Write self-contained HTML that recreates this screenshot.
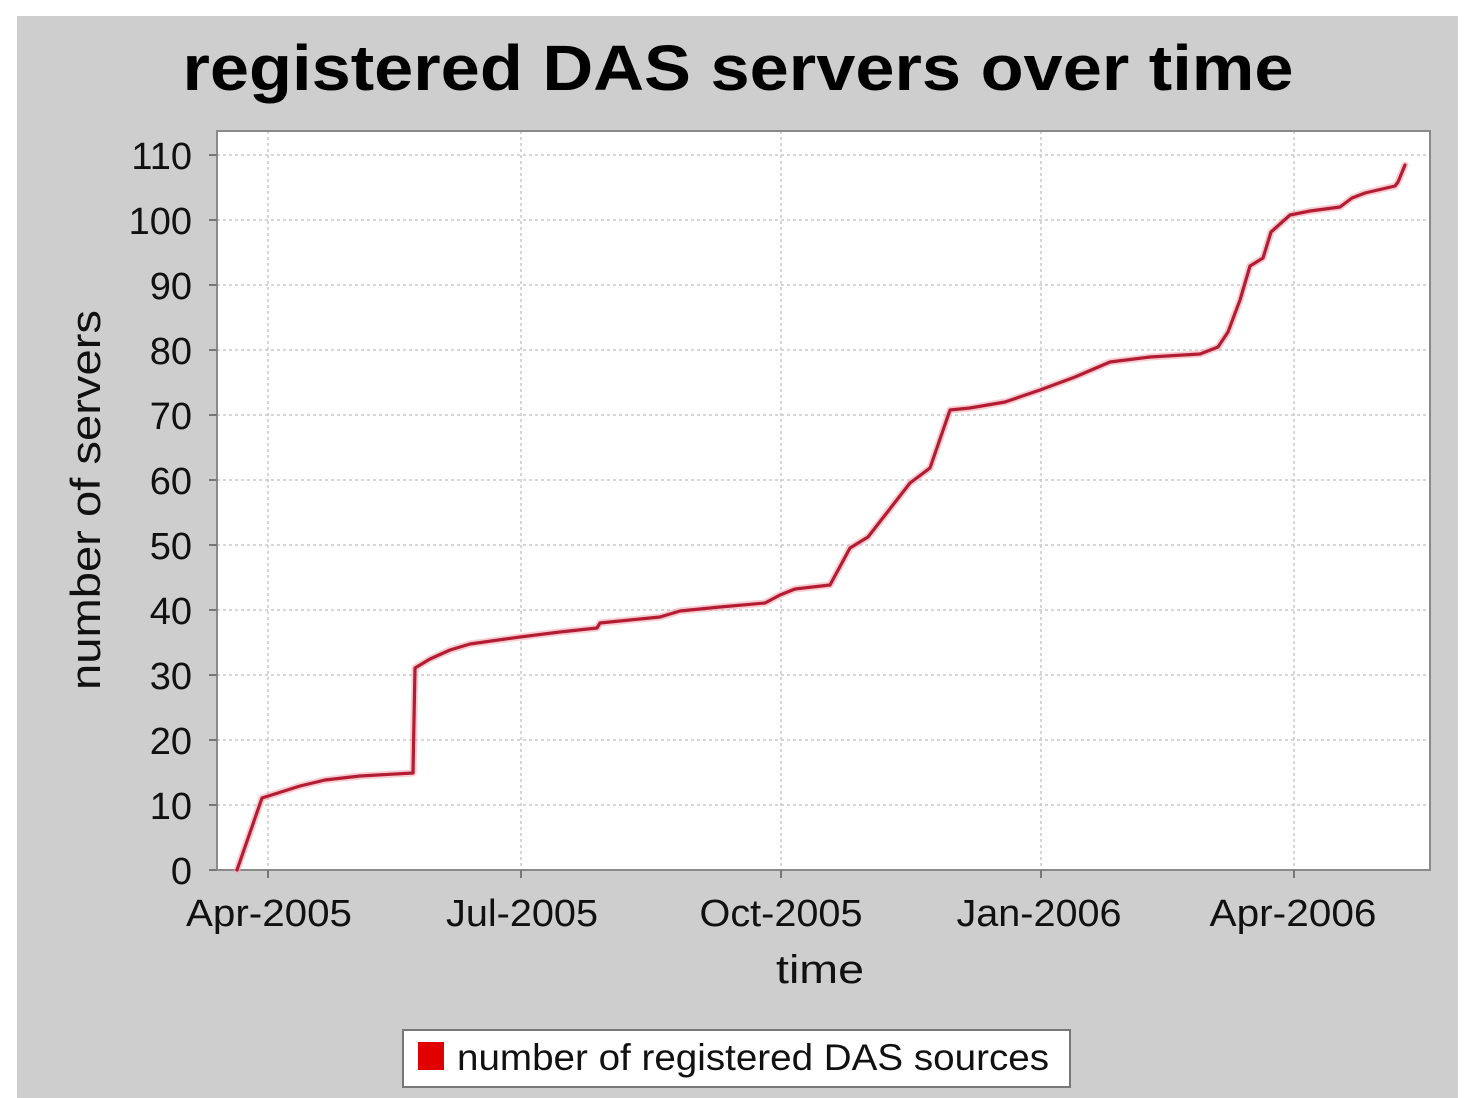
<!DOCTYPE html>
<html>
<head>
<meta charset="utf-8">
<style>
html,body{margin:0;padding:0;background:#ffffff;}
body{width:1466px;height:1098px;overflow:hidden;}
svg{display:block;}
text{font-family:"Liberation Sans","DejaVu Sans",sans-serif;fill:#111;}
</style>
</head>
<body>
<svg width="1466" height="1098" viewBox="0 0 1466 1098" xmlns="http://www.w3.org/2000/svg">
  <!-- outer panel -->
  <rect x="17" y="16" width="1441" height="1082" fill="#cecece"/>
  <!-- title -->
  <text x="738" y="90" font-size="64" font-weight="bold" text-anchor="middle" textLength="1111" lengthAdjust="spacingAndGlyphs" style="fill:#000">registered DAS servers over time</text>

  <!-- plot area -->
  <rect x="217" y="131" width="1213" height="739" fill="#ffffff"/>

  <!-- grid lines -->
  <g stroke="#c8c8c8" stroke-width="1.5" stroke-dasharray="3,3" fill="none">
    <line x1="217" y1="155" x2="1430" y2="155"/>
    <line x1="217" y1="220" x2="1430" y2="220"/>
    <line x1="217" y1="285" x2="1430" y2="285"/>
    <line x1="217" y1="350" x2="1430" y2="350"/>
    <line x1="217" y1="415" x2="1430" y2="415"/>
    <line x1="217" y1="480" x2="1430" y2="480"/>
    <line x1="217" y1="545" x2="1430" y2="545"/>
    <line x1="217" y1="610" x2="1430" y2="610"/>
    <line x1="217" y1="675" x2="1430" y2="675"/>
    <line x1="217" y1="740" x2="1430" y2="740"/>
    <line x1="217" y1="805" x2="1430" y2="805"/>
    <line x1="268" y1="131" x2="268" y2="870"/>
    <line x1="521" y1="131" x2="521" y2="870"/>
    <line x1="781" y1="131" x2="781" y2="870"/>
    <line x1="1041" y1="131" x2="1041" y2="870"/>
    <line x1="1294" y1="131" x2="1294" y2="870"/>
  </g>

  <!-- plot border -->
  <rect x="217" y="131" width="1213" height="739" fill="none" stroke="#8a8a8a" stroke-width="2"/>

  <!-- ticks -->
  <g stroke="#777" stroke-width="2">
    <line x1="209" y1="155" x2="217" y2="155"/>
    <line x1="209" y1="220" x2="217" y2="220"/>
    <line x1="209" y1="285" x2="217" y2="285"/>
    <line x1="209" y1="350" x2="217" y2="350"/>
    <line x1="209" y1="415" x2="217" y2="415"/>
    <line x1="209" y1="480" x2="217" y2="480"/>
    <line x1="209" y1="545" x2="217" y2="545"/>
    <line x1="209" y1="610" x2="217" y2="610"/>
    <line x1="209" y1="675" x2="217" y2="675"/>
    <line x1="209" y1="740" x2="217" y2="740"/>
    <line x1="209" y1="805" x2="217" y2="805"/>
    <line x1="209" y1="870" x2="217" y2="870"/>
    <line x1="268" y1="870" x2="268" y2="878"/>
    <line x1="521" y1="870" x2="521" y2="878"/>
    <line x1="781" y1="870" x2="781" y2="878"/>
    <line x1="1041" y1="870" x2="1041" y2="878"/>
    <line x1="1294" y1="870" x2="1294" y2="878"/>
  </g>

  <!-- y tick labels -->
  <g font-size="38" text-anchor="end">
    <text x="192" y="169">110</text>
    <text x="192" y="234">100</text>
    <text x="192" y="299">90</text>
    <text x="192" y="364">80</text>
    <text x="192" y="429">70</text>
    <text x="192" y="494">60</text>
    <text x="192" y="559">50</text>
    <text x="192" y="624">40</text>
    <text x="192" y="689">30</text>
    <text x="192" y="754">20</text>
    <text x="192" y="819">10</text>
    <text x="192" y="884">0</text>
  </g>

  <!-- x tick labels -->
  <g font-size="38" text-anchor="middle">
    <text x="269" y="926" textLength="166" lengthAdjust="spacingAndGlyphs">Apr-2005</text>
    <text x="522" y="926" textLength="152" lengthAdjust="spacingAndGlyphs">Jul-2005</text>
    <text x="781" y="926" textLength="163" lengthAdjust="spacingAndGlyphs">Oct-2005</text>
    <text x="1039" y="926" textLength="165" lengthAdjust="spacingAndGlyphs">Jan-2006</text>
    <text x="1293" y="926" textLength="167" lengthAdjust="spacingAndGlyphs">Apr-2006</text>
  </g>

  <!-- axis labels -->
  <text x="820" y="983" font-size="40" text-anchor="middle" textLength="88" lengthAdjust="spacingAndGlyphs">time</text>
  <text transform="translate(100,500) rotate(-90)" x="0" y="0" font-size="42" text-anchor="middle" textLength="380" lengthAdjust="spacingAndGlyphs">number of servers</text>

  <!-- series -->
  <g fill="none" stroke-linejoin="round" stroke-linecap="round">
    <polyline stroke="#f4a8b0" stroke-width="7" opacity="0.6" points="237,870 262,798 300,786 325,780 360,776 413,773 415,668 430,659 450,650 470,644 520,637 560,632 597,628 600,623 640,619 660,617 680,611 720,607 765,603 780,595 795,589 830,585 850,548 868,537 910,483 930,468 950,410 970,408 1005,402 1040,390 1075,377 1110,362 1150,357 1200,354 1218,347 1228,332 1240,300 1250,266 1263,258 1271,232 1290,215 1310,211 1340,207 1352,198 1365,193 1395,186 1398,182 1405,165"/>
    <polyline stroke="#b31d33" stroke-width="3.2" points="237,870 262,798 300,786 325,780 360,776 413,773 415,668 430,659 450,650 470,644 520,637 560,632 597,628 600,623 640,619 660,617 680,611 720,607 765,603 780,595 795,589 830,585 850,548 868,537 910,483 930,468 950,410 970,408 1005,402 1040,390 1075,377 1110,362 1150,357 1200,354 1218,347 1228,332 1240,300 1250,266 1263,258 1271,232 1290,215 1310,211 1340,207 1352,198 1365,193 1395,186 1398,182 1405,165"/>
  </g>

  <!-- legend -->
  <rect x="403" y="1030" width="667" height="57" fill="#ffffff" stroke="#777" stroke-width="2"/>
  <rect x="418" y="1042" width="26" height="28" fill="#e00000"/>
  <text x="457" y="1070" font-size="37" textLength="592" lengthAdjust="spacingAndGlyphs">number of registered DAS sources</text>
</svg>
</body>
</html>
